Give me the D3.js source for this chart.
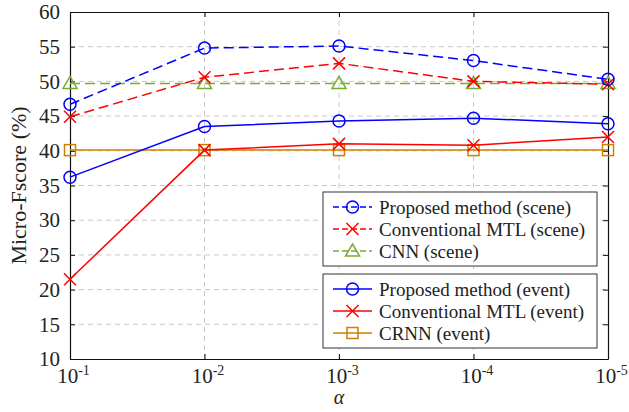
<!DOCTYPE html>
<html>
<head>
<meta charset="utf-8">
<script src="https://cdn.jsdelivr.net/npm/d3@7"></script>
<style>
  body { margin: 0; background: #fff; }
  svg text { font-family: 'Liberation Serif', 'Times New Roman', Times, serif !important; fill: #222; }
</style>
</head>
<body>
<svg id="chart" width="629" height="412"></svg>
<script>
const alphaExps = [-1, -2, -3, -4, -5]
const yTicks = [10, 15, 20, 25, 30, 35, 40, 45, 50, 55, 60]

const proposedScene = [46.7, 54.8, 55.1, 53.0, 50.3]
const mtlScene = [44.9, 50.6, 52.6, 50.0, 49.6]
const cnnScene = [49.7, 49.7, 49.7, 49.7, 49.7]
const proposedEvent = [36.2, 43.5, 44.3, 44.7, 43.9]
const mtlEvent = [21.5, 40.1, 41.0, 40.8, 42.0]
const crnnEvent = [40.1, 40.1, 40.1, 40.1, 40.1]

const seriesNames = [
  'Proposed method (scene)', 'Conventional MTL (scene)', 'CNN (scene)',
  'Proposed method (event)', 'Conventional MTL (event)', 'CRNN (event)',
]

const series = [
  { name: seriesNames[0], values: proposedScene, color: '#0000ff', dash: '10,5', marker: 'circle' },
  { name: seriesNames[1], values: mtlScene, color: '#ff0000', dash: '10,5', marker: 'cross' },
  { name: seriesNames[2], values: cnnScene, color: '#77ac30', dash: '10,5', marker: 'triangle' },
  { name: seriesNames[3], values: proposedEvent, color: '#0000ff', dash: null, marker: 'circle' },
  { name: seriesNames[4], values: mtlEvent, color: '#ff0000', dash: null, marker: 'cross' },
  { name: seriesNames[5], values: crnnEvent, color: '#cc8000', dash: null, marker: 'square' },
]

const margin = { left: 70, right: 21, top: 12, bottom: 53 }
const width = 629, height = 412
const svg = d3.select('#chart')

const x = d3.scalePoint().domain(alphaExps).range([margin.left, width - margin.right])
const y = d3.scaleLinear().domain([10, 60]).range([height - margin.bottom, margin.top])

const [x0, x1] = x.range()
const [y0, y1] = y.range()

// grid
const grid = svg.append('g').attr('stroke', '#c8c8c8').attr('stroke-dasharray', '5,4').attr('stroke-width', 1)
alphaExps.slice(1, -1).forEach((e) => {
  grid.append('line').attr('x1', x(e)).attr('x2', x(e)).attr('y1', y0).attr('y2', y1)
})
yTicks.slice(1, -1).forEach((v) => {
  grid.append('line').attr('x1', x0).attr('x2', x1).attr('y1', y(v)).attr('y2', y(v))
})

// axes
const xAxis = svg.append('g').attr('transform', `translate(0,${y0})`)
  .call(d3.axisBottom(x).tickSizeInner(-5).tickSizeOuter(0).tickFormat(() => ''))
const xTop = svg.append('g').attr('transform', `translate(0,${y1})`)
  .call(d3.axisTop(x).tickSizeInner(-5).tickSizeOuter(0).tickFormat(() => ''))
const yAxis = svg.append('g').attr('transform', `translate(${x0},0)`)
  .call(d3.axisLeft(y).tickValues(yTicks).tickSizeInner(-5).tickSizeOuter(0).tickPadding(10))
const yRight = svg.append('g').attr('transform', `translate(${x1},0)`)
  .call(d3.axisRight(y).tickValues(yTicks).tickSizeInner(-5).tickSizeOuter(0).tickFormat(() => ''))

;[xAxis, xTop, yAxis, yRight].forEach((g) => {
  g.attr('font-family', null)
  g.select('.domain').attr('stroke', '#111').attr('stroke-width', 1.2)
  g.selectAll('.tick line').attr('stroke', '#111')
})
yAxis.selectAll('.tick text').attr('font-size', 21).attr('fill', '#222')

// x tick labels with superscripts
xAxis.selectAll('.tick').each(function (e) {
  const t = d3.select(this).select('text')
    .attr('y', 24).attr('dy', null).attr('x', 3)
    .attr('font-size', 21).attr('fill', '#222')
  t.text('')
  t.append('tspan').text('10')
  t.append('tspan').attr('font-size', 14).attr('dy', '-8').text(e)
})

// axis titles
svg.append('text')
  .attr('transform', `translate(26,${(y0 + y1) / 2}) rotate(-90)`)
  .attr('text-anchor', 'middle')
  .attr('font-size', 22)
  .text('Micro-Fscore (%)')
svg.append('text')
  .attr('x', x(-3)).attr('y', 404)
  .attr('text-anchor', 'middle')
  .attr('font-size', 20)
  .attr('font-style', 'italic')
  .text('α')

function drawMarker(g, kind, color) {
  if (kind === 'circle') {
    g.append('circle').attr('r', 6).attr('fill', 'none').attr('stroke', color).attr('stroke-width', 1.5)
  } else if (kind === 'cross') {
    g.append('path').attr('d', 'M-6,-6L6,6M-6,6L6,-6').attr('stroke', color).attr('stroke-width', 1.5)
  } else if (kind === 'triangle') {
    g.append('path').attr('d', 'M0,-7L7,5L-7,5Z').attr('fill', 'none').attr('stroke', color).attr('stroke-width', 1.5)
  } else if (kind === 'square') {
    g.append('rect').attr('x', -5.5).attr('y', -5.5).attr('width', 11).attr('height', 11)
      .attr('fill', 'none').attr('stroke', color).attr('stroke-width', 1.5)
  }
}

// lines (draw event first, scene on top)
const line = d3.line().x((d, i) => x(alphaExps[i])).y((d) => y(d))
const order = [5, 4, 3, 2, 1, 0]
order.forEach((k) => {
  const s = series[k]
  svg.append('path')
    .attr('d', line(s.values))
    .attr('fill', 'none')
    .attr('stroke', s.color)
    .attr('stroke-width', 1.5)
    .attr('stroke-dasharray', s.dash)
  s.values.forEach((v, i) => {
    const g = svg.append('g').attr('transform', `translate(${x(alphaExps[i])},${y(v)})`)
    drawMarker(g, s.marker, s.color)
  })
})

// legends
const legendBoxes = [
  { items: series.slice(0, 3), top: 192 },
  { items: series.slice(3), top: 274 },
]
legendBoxes.forEach((box) => {
  const g = svg.append('g').attr('transform', `translate(323,${box.top})`)
  g.append('rect').attr('width', 274).attr('height', 74)
    .attr('fill', '#fff').attr('stroke', '#333').attr('stroke-width', 1)
  box.items.forEach((s, i) => {
    const ry = 15 + i * 22
    g.append('line').attr('x1', 10).attr('x2', 49).attr('y1', ry).attr('y2', ry)
      .attr('stroke', s.color).attr('stroke-width', 1.5).attr('stroke-dasharray', s.dash ? '6,3' : null)
    const m = g.append('g').attr('transform', `translate(29.5,${ry})`)
    drawMarker(m, s.marker, s.color)
    g.append('text').attr('x', 56).attr('y', ry).attr('dy', '0.35em')
      .attr('font-size', 19).text(s.name)
  })
})
</script>
</body>
</html>
